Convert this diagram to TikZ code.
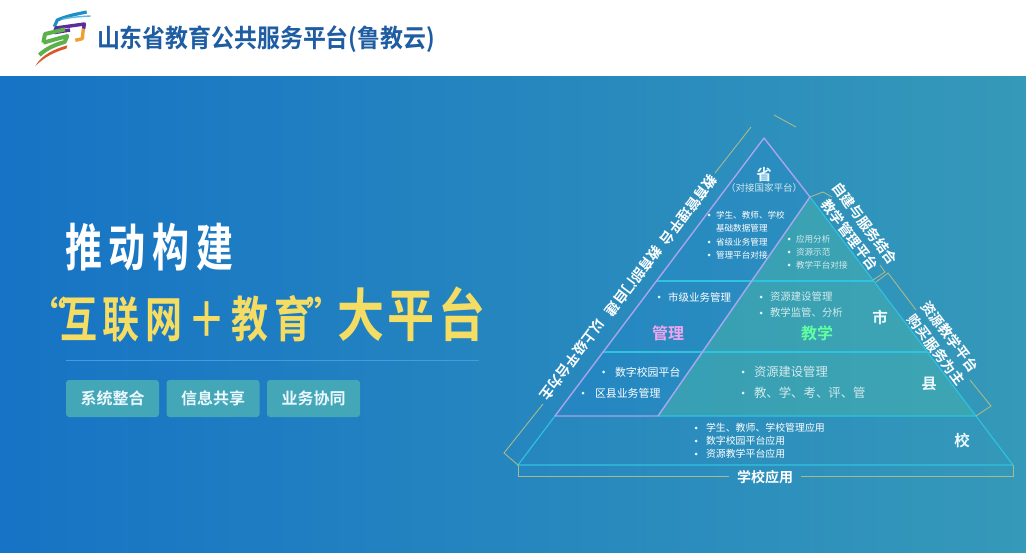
\documentclass[tikz,border=0pt]{standalone}
\usepackage{fontspec}
\setmainfont{Noto Sans CJK SC}[BoldFont={Noto Sans CJK SC Bold}]
\usetikzlibrary{calc}
\newcommand{\fsz}[1]{\fontsize{#1}{#1}\selectfont}
\definecolor{bgL}{HTML}{1673C5}
\definecolor{bgR}{HTML}{3599B9}
\definecolor{cyanL}{HTML}{2FC3E2}
\definecolor{lilac}{HTML}{A9A4EC}
\definecolor{goldL}{HTML}{A8B98C}
\definecolor{tealF}{HTML}{46B3AC}
\definecolor{headT}{HTML}{1F5DA3}
\definecolor{ylw}{HTML}{F5DC62}
\definecolor{btn}{HTML}{43A7B8}
\definecolor{pale}{HTML}{D4EAEC}
\definecolor{sepC}{HTML}{3F9DE2}
\definecolor{lgBlue}{HTML}{1E8FC4}
\definecolor{lgSky}{HTML}{5DB8DC}
\definecolor{lgPur}{HTML}{5B2C9A}
\definecolor{lgOra}{HTML}{F0A030}
\definecolor{lgGrn}{HTML}{5DB14A}
\definecolor{lgRed}{HTML}{D9552B}
\tikzset{
  cyanline/.style={draw=cyanL,line width=1.1pt},
  lilacline/.style={draw=lilac,line width=1.4pt,line join=round},
  goldline/.style={draw=goldL,line width=0.9pt,line join=miter},
  lab/.style={inner sep=0pt,outer sep=0pt,text=white},
  item/.style={lab,anchor=west},
  rotL/.style={lab,font=\bfseries\fsz{14},rotate=233},
  rotR/.style={lab,font=\bfseries\fsz{14},rotate=-53},
  level/.style={lab,font=\bfseries\fsz{15.5},text=white!92!cyan},
  btnbox/.style={lab,fill=btn,rounded corners=3pt,minimum width=93pt,minimum height=37pt,text=white!92!cyan,font=\bfseries\fsz{16}},
  bul/.style={fill=white!92!cyan},
}
\begin{document}
\begin{tikzpicture}[x=1pt,y=-1pt]
\useasboundingbox (0,0) rectangle (1026,552);
\shade[left color=bgL,right color=bgR] (0,0) rectangle (1026,552);
\fill[white] (0,0) rectangle (1026,76);

% --- logo (coordinates in thirds of a pixel) ---
\begin{scope}[shift={(20,0)},x=0.3333pt,y=-0.3333pt,line cap=butt,line join=round]
  \draw[draw=lgOra,line width=3.4pt] (190,86) -- (187,116) -- (166,121);
  \draw[draw=lgBlue,line width=3.2pt] (103,80) -- (112,60) .. controls (140,48) and (170,42) .. (200,36);
  \draw[draw=lgSky,line width=1.4pt] (125,58) .. controls (150,52) and (175,50) .. (212,48);
  \draw[draw=lgPur,line width=3.4pt] (103,98) -- (108,84) .. controls (135,80) and (165,76) .. (193,72) -- (191,86);
  \draw[draw=lgPur,line width=3.4pt] (103,98) -- (150,90);
  \draw[draw=lgGrn,line width=4pt] (70,128) -- (75,102) -- (135,88);
  \draw[draw=lgGrn,line width=4pt] (70,128) -- (142,108) -- (134,126) .. controls (105,134) and (80,145) .. (58,165);
  \fill[lgRed] (142,136) -- (139,146) .. controls (105,155) and (75,170) .. (46,198) .. controls (65,165) and (100,148) .. (142,136) -- cycle;
\end{scope}
\node[lab,anchor=west,text=headT,font=\bfseries\fsz{22.9},yscale=1.1] (header) at (97,39) {山东省教育公共服务平台(鲁教云)};

% --- left headline ---
\node[lab,anchor=west,font=\bfseries\fsz{37},yscale=1.38] (title1) at (65,247)
  {推\hspace{7pt}动\hspace{7pt}构\hspace{7pt}建};
\node[lab,font=\bfseries\fsz{38},text=ylw] (quoteL) at (47,313) {“};
\node[lab,anchor=west,text=ylw,font=\bfseries\fsz{37},yscale=1.32] (title2) at (60,319)
  {互\hspace{6pt}联\hspace{6pt}网\hspace{6pt}＋\hspace{6pt}教\hspace{6pt}育};
\node[lab,font=\bfseries\fsz{38},text=ylw] (quoteR) at (325,313) {”};
\node[lab,anchor=west,text=ylw,font=\bfseries\fsz{47},yscale=1.22] (title3) at (337,314)
  {大\hspace{4pt}平\hspace{4pt}台};
\coordinate (sepA) at (66,360);
\coordinate (sepB) at (479,360);
\draw[draw=sepC,line width=0.8pt] (sepA) -- (sepB);
\node[btnbox] (b1) at (112.5,398.5) {系统整合};
\node[btnbox] (b2) at (213,398.5) {信息共享};
\node[btnbox] (b3) at (313.5,398.5) {业务协同};

% --- pyramid corner points ---
\coordinate (A) at (764,138);
\coordinate (B) at (810,197);
\coordinate (L) at (555,416);
\coordinate (M) at (658,416);
\coordinate (R) at (976,416);
\coordinate (BL) at (518,465);
\coordinate (BR) at (1013,465);
\coordinate (h1a) at (656.5,281);
\coordinate (h1b) at (874,281);
\coordinate (h2a) at (603,352);
\coordinate (h2b) at (927,352);

\fill[tealF,fill opacity=0.5] (B) -- (M) -- (R) -- cycle;
\fill[blue!60!cyan,fill opacity=0.05] (A) -- (B) -- (M) -- (L) -- cycle;
\draw[cyanline] (L) -- (BL) -- (BR) -- (R);
\draw[cyanline] (M) -- (R) -- (B);
\draw[cyanline] (M) -- (B);
\draw[cyanline] (h1a) -- (h1b);
\draw[cyanline] (h2a) -- (h2b);
\draw[lilacline] (B) -- (A) -- (L) -- (M) -- (B);

% --- gold brackets ---
\coordinate (g1) at (751,127); \coordinate (g2) at (715,173);
\draw[goldline] (g1) -- (g2);
\coordinate (g3) at (774,115); \coordinate (g4) at (796,127);
\draw[goldline] (g3) -- (g4);
\coordinate (g5) at (543,404); \coordinate (g6) at (504,453);
\draw[goldline] (g5) -- (g6) -- (BL);
\coordinate (g7) at (823,192); \coordinate (g8) at (832,197);
\draw[goldline] (B) -- (g7) -- (g8);
\coordinate (g9) at (880,265); \coordinate (g10) at (885,272); \coordinate (g11) at (873,280);
\draw[goldline] (g9) -- (g10) -- (g11);
\coordinate (g12) at (876,282); \coordinate (g13) at (888,273); \coordinate (g14) at (916,310);
\draw[goldline] (g12) -- (g13) -- (g14);
\coordinate (g15) at (970,380); \coordinate (g16) at (991,406);
\draw[goldline] (g15) -- (g16) -- (R);
\coordinate (g17) at (518,476); \coordinate (g18) at (729,476);
\draw[goldline] (BL) -- (g17) -- (g18);
\coordinate (g19) at (801,476); \coordinate (g20) at (1013,476);
\draw[goldline] (g19) -- (g20) -- (BR);

% --- rotated labels ---
\node[rotL] (r1) at (689,210) {教育管理平台};
\node[rotL] (r2) at (634,281) {教育部门自建};
\node[rotL] (r3) at (572.5,360) {以上级平台为主};
\node[rotR] (r4) at (865,223.5) {自建与服务结合};
\node[rotR] (r5) at (850,235) {教学管理平台};
\node[rotR] (r6) at (950,336.5) {资源教学平台};
\node[rotR] (r7) at (936.5,350) {购买服务为主};

% --- levels ---
\node[level] (sheng) at (764,174.5) {省};
\node[lab,font=\fsz{9.5},text=pale] (duijie) at (764,188) {（对接国家平台）};
\node[level] (shi) at (880,317) {市};
\node[level] (xian) at (929,384) {县};
\node[level] (xiao) at (962,441) {校};
\node[lab,font=\bfseries\fsz{16},text=violet!35!magenta!35!white] (guanli) at (668,333) {管理};
\node[lab,font=\bfseries\fsz{16},text=green!60!cyan!62!white] (jiaoxue) at (817,333) {教学};
\node[lab,font=\bfseries\fsz{14}] (xxyy) at (765,477) {学校应用};

% --- lists ---
\foreach \bx/\by in {709/215,709/242,709/255,659/297,603.5/372,583/393,789/239,789/252,789/265,761/297,761/313,743/372,743/393,696/428,696/441,696/454}
  \fill[bul] (\bx,\by) circle (1.5pt);
\node[item,font=\fsz{8.6}] (t1) at (716,215) {学生、教师、学校};
\node[item,font=\fsz{8.6}] (t2) at (716,228) {基础数据管理};
\node[item,font=\fsz{8.6}] (t3) at (716,242) {省级业务管理};
\node[item,font=\fsz{8.6}] (t4) at (716,255) {管理平台对接};
\node[item,font=\fsz{10.5}] (t5) at (668,297) {市级业务管理};
\node[item,font=\fsz{10.9}] (t6) at (615,372) {数字校园平台};
\node[item,font=\fsz{10.9}] (t7) at (595,393) {区县业务管理};
\node[item,font=\fsz{8.6},text=pale] (t8) at (796,239) {应用分析};
\node[item,font=\fsz{8.6},text=pale] (t9) at (796,252) {资源示范};
\node[item,font=\fsz{8.6},text=pale] (t10) at (796,265) {教学平台对接};
\node[item,font=\fsz{10.4},text=pale] (t11) at (770,297) {资源建设管理};
\node[item,font=\fsz{10.4},text=pale] (t12) at (770,313) {教学监管、分析};
\node[item,font=\fsz{12.3},text=pale] (t13) at (754,372) {资源建设管理};
\node[item,font=\fsz{12.4},text=pale] (t14) at (754,393) {教、学、考、评、管};
\node[item,font=\fsz{9.9}] (t15) at (706,428) {学生、教师、学校管理应用};
\node[item,font=\fsz{9.9}] (t16) at (706,441) {数字校园平台应用};
\node[item,font=\fsz{9.9}] (t17) at (706,454) {资源教学平台应用};
\end{tikzpicture}
\end{document}
